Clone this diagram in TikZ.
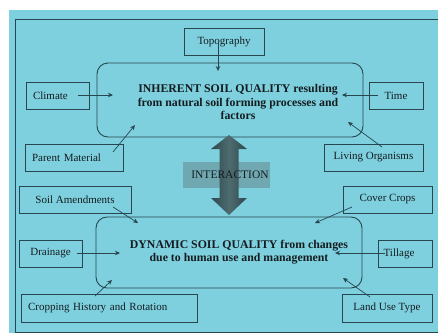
\documentclass[tikz,border=0pt]{standalone}
\usepackage{fontspec}
\setmainfont{Liberation Serif}
\usetikzlibrary{arrows.meta}
\definecolor{bg}{RGB}{126,208,222}
\definecolor{ln}{RGB}{40,70,80}
\definecolor{tx}{RGB}{20,28,32}
\definecolor{ibox}{RGB}{112,168,178}
\definecolor{arrA}{RGB}{45,72,78}
\definecolor{arrB}{RGB}{78,108,112}
\begin{document}
\begin{tikzpicture}[x=1pt,y=-1pt,
  box/.style={draw=ln, line width=0.8pt, inner sep=0pt, text=tx,
    font=\fontsize{11}{13}\selectfont, minimum height=27pt},
  lbox/.style={box, inner xsep=7pt, align=left},
  core/.style={draw=ln, line width=0.9pt, rounded corners=11pt, inner sep=0pt},
  title/.style={text=tx, align=center, inner sep=0pt,
    font=\fontsize{11.8}{13.5}\selectfont\bfseries},
  conn/.style={draw=ln, line width=0.7pt, -{Stealth[length=5pt,width=4.5pt]}}]
\useasboundingbox (0,0) rectangle (438,333);
\fill[white] (0,0) rectangle (438,333);
\fill[bg] (9,10) rectangle (438,333);
\draw[ln, line width=0.9pt] (438,19) -- (15,19) -- (15,332) -- (438,332);

% core boxes
\node[core, minimum width=266pt, minimum height=74pt] (inh) at (230,100) {};
\node[title] (inhtxt) at (238,102) {INHERENT SOIL QUALITY resulting\\from natural soil forming processes and\\factors};
\node[core, minimum width=266pt, minimum height=71pt] (dyn) at (229,252.5) {};
\node[title] (dyntxt) at (239,252) {DYNAMIC SOIL QUALITY from changes\\due to human use and management};

% interaction box and double arrow
\fill[ibox] (183,162) rectangle (270,188);
\shade[left color=arrA, right color=arrA, middle color=arrB]
  (229,135) -- (247,149) -- (238.5,149) -- (238.5,198) -- (247,198) -- (229,215)
  -- (211,198) -- (219.5,198) -- (219.5,149) -- (211,149) -- cycle;
\node[text=tx, inner sep=0pt, font=\fontsize{11.5}{13}\selectfont] (inter) at (230,174.5) {INTERACTION};

% factor boxes
\node[box, minimum width=80pt] (topo) at (224,41.5) {Topography};
\node[lbox, text width=49pt, minimum width=63pt] (clim) at (57.5,95.5) {Climate};
\node[box, minimum width=54pt] (time) at (396,95.5) {Time};
\node[lbox, text width=84pt, minimum width=98pt] (parent) at (74,157.5) {Parent Material};
\node[box, minimum width=99pt] (living) at (373.5,157.5) {Living Organisms};
\node[box, minimum width=112pt] (amend) at (75,199.5) {Soil Amendments};
\node[box, minimum width=89pt] (cover) at (387.5,199.5) {Cover Crops};
\node[box, minimum width=63pt] (drain) at (50.5,253.5) {Drainage};
\node[box, minimum width=54pt] (till) at (405,253.5) {\hspace*{-12pt}Tillage};
\node[lbox, text width=162pt, minimum width=176pt, minimum height=28pt] (crop) at (109,308) {Cropping History and Rotation};
\node[box, minimum width=90pt, minimum height=28pt] (land) at (387,308) {Land Use Type};

% connector end points
\coordinate (topoS) at (218,42);   \coordinate (topoE) at (218,71);
\coordinate (climS) at (78,95);    \coordinate (climE) at (113,95);
\coordinate (timeS) at (378,95);   \coordinate (timeE) at (342,95);
\coordinate (parS) at (113,152);   \coordinate (parE) at (135,125);
\coordinate (livS) at (382,147);   \coordinate (livE) at (348,122);
\coordinate (amS) at (113,207);    \coordinate (amE) at (138,223);
\coordinate (covS) at (352,207);   \coordinate (covE) at (315,223);
\coordinate (drS) at (77,253);     \coordinate (drE) at (120,253);
\coordinate (tiS) at (385,253);    \coordinate (tiE) at (335,253);
\coordinate (crS) at (95,296);     \coordinate (crE) at (112,280);
\coordinate (laS) at (370,297);    \coordinate (laE) at (343,278);

\draw[conn] (topoS) -- (topoE);
\draw[conn] (climS) -- (climE);
\draw[conn] (timeS) -- (timeE);
\draw[conn] (parS) -- (parE);
\draw[conn] (livS) -- (livE);
\draw[conn] (amS) -- (amE);
\draw[conn] (covS) -- (covE);
\draw[conn] (drS) -- (drE);
\draw[conn] (tiS) -- (tiE);
\draw[conn] (crS) -- (crE);
\draw[conn] (laS) -- (laE);
\end{tikzpicture}
\end{document}
